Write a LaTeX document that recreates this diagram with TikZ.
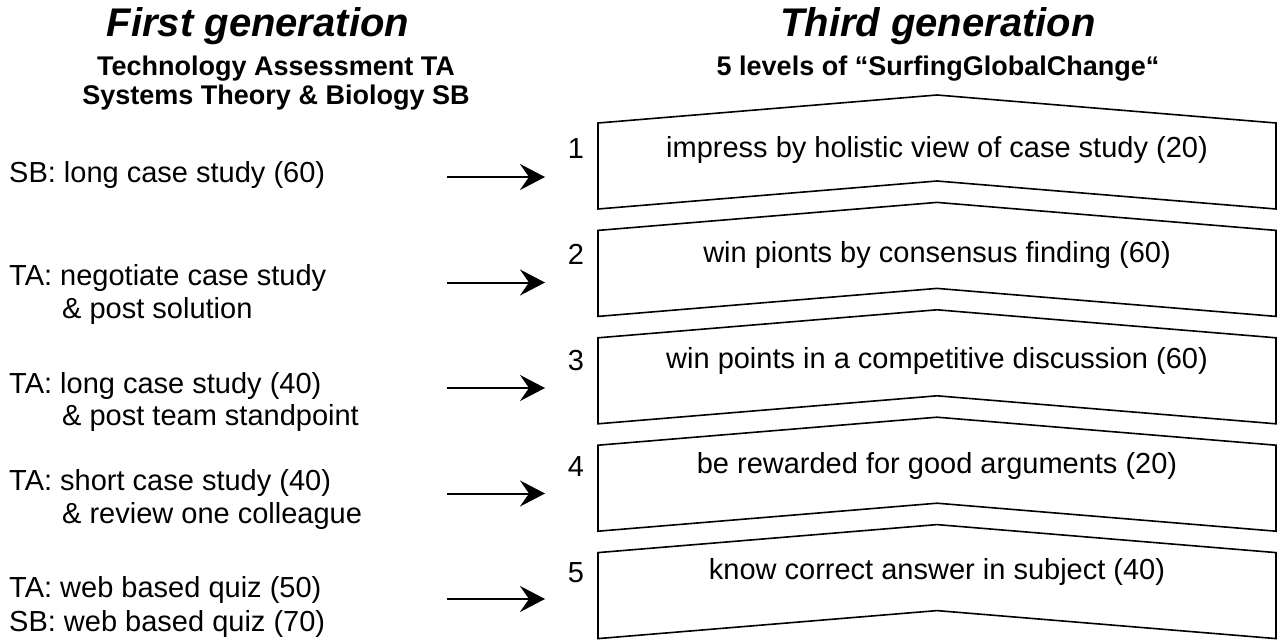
\documentclass[tikz,border=0pt]{standalone}
\usepackage{fontspec}
\setmainfont{Liberation Sans}
\usetikzlibrary{arrows.meta}
\begin{document}
\begin{tikzpicture}[x=1pt,y=-1pt,
  lbl/.style={inner sep=0pt, font=\fontsize{29}{33}\selectfont},
  ttl/.style={inner sep=0pt, font=\fontsize{40}{44}\selectfont\bfseries\itshape},
  sub/.style={inner sep=0pt, font=\fontsize{27}{30}\selectfont\bfseries},
  chev/.style={draw=black, line width=1.6pt, line join=miter},
  arr/.style={-{Stealth[length=25pt,width=26pt,inset=9pt]}, line width=2pt}]
\useasboundingbox (0,0) rectangle (1282,642);
% titles
\node[ttl, anchor=base] (t1) at (258,37) {First generation};
\node[sub, anchor=base] (s1) at (276,75) {Technology Assessment TA};
\node[sub, anchor=base] (s2) at (276,104) {Systems Theory \& Biology SB};
\node[ttl, anchor=base] (t3) at (938,37) {Third generation};
\node[sub, anchor=base] (s3) at (938,75) {5 levels of “SurfingGlobalChange“};
% chevron boxes, numbers, arrows
\foreach \i/\txt in {1/impress by holistic view of case study (20),
                     2/win pionts by consensus finding (60),
                     3/win points in a competitive discussion (60),
                     4/be rewarded for good arguments (20),
                     5/know correct answer in subject (40)}{
  \pgfmathsetmacro\yt{123+107.4*(\i-1)}
  \draw[chev] (598,\yt) -- (937,\yt-28) -- (1276,\yt) -- (1276,\yt+86)
     -- (937,\yt+58) -- (598,\yt+86) -- cycle;
  \node[lbl, anchor=base] (box\i) at (937,{157+105.5*(\i-1)}) {\txt};
  \node[lbl, anchor=base] (n\i) at (576,{158+106.2*(\i-1)}) {\i};
  \coordinate (as\i) at (447,{177+105.5*(\i-1)});
  \coordinate (ae\i) at (545,{177+105.5*(\i-1)});
  \draw[arr] (as\i) -- (ae\i);
}
% left texts
\node[lbl, anchor=base west] (l1) at (9,182) {SB: long case study (60)};
\node[lbl, anchor=base west] (l2a) at (9,285) {TA: negotiate case study};
\node[lbl, anchor=base west] (l2b) at (62,318) {\& post solution};
\node[lbl, anchor=base west] (l3a) at (9,393) {TA: long case study (40)};
\node[lbl, anchor=base west] (l3b) at (62,425) {\& post team standpoint};
\node[lbl, anchor=base west] (l4a) at (9,490) {TA: short case study (40)};
\node[lbl, anchor=base west] (l4b) at (62,523) {\& review one colleague};
\node[lbl, anchor=base west] (l5a) at (9,597) {TA: web based quiz (50)};
\node[lbl, anchor=base west] (l5b) at (9,631) {SB: web based quiz (70)};
\end{tikzpicture}
\end{document}
